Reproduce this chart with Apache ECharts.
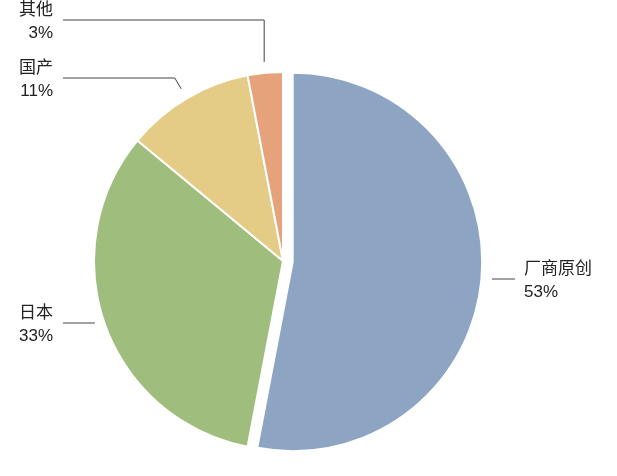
<!DOCTYPE html>
<html>
<head>
<meta charset="utf-8">
<script src="https://cdn.jsdelivr.net/npm/echarts@6/dist/echarts.min.js"></script>
<style>
  html, body { margin: 0; padding: 0; background: #fff; }
  #chart { width: 617px; height: 476px; }
</style>
</head>
<body>
<div id="chart"></div>
<script>
const categories = ['厂商原创', '日本', '国产', '其他']
const shares = [53, 33, 11, 3]
const colors = ['#8EA4C3', '#9FBE7E', '#E4CC86', '#E6A37B']

// where each label sits (side, y of the leader line)
const labelSpots = [
  { side: 'right', lineY: 279 },
  { side: 'left', lineY: 323 },
  { side: 'left', lineY: 78 },
  { side: 'left', lineY: 20 }
]

const CENTER = [283, 261]
const RADIUS = 189
const PULL = 10 // how far the first slice is pulled out
const GAP = 11 // space between slice edge and leader line
const LEFT_TEXT_X = 53
const RIGHT_TEXT_X = 524

// direction of the pulled slice, from the data
const total = shares.reduce((a, b) => a + b, 0)
const midAngle = (shares[0] / total) * Math.PI // clockwise from top
const pullX = Math.sin(midAngle) * PULL
const pullY = -Math.cos(midAngle) * PULL

const chart = echarts.init(document.getElementById('chart'), null, { renderer: 'canvas' })

const base = {
  type: 'pie',
  radius: RADIUS,
  startAngle: 90,
  clockwise: true,
  silent: true,
  avoidLabelOverlap: false,
  emphasis: { disabled: true }
}

const hidden = { color: 'transparent', borderWidth: 0 }

chart.setOption({
  backgroundColor: '#fff',
  animation: false,
  series: [
    {
      ...base,
      center: CENTER,
      label: {
        show: true,
        position: 'outside',
        formatter: (p) => p.name + '\n' + p.value + '%',
        color: '#222',
        fontSize: 17,
        lineHeight: 23,
        fontFamily: '"Liberation Sans", "Noto Sans CJK SC", sans-serif'
      },
      labelLine: {
        show: true,
        length: 10,
        length2: 10,
        lineStyle: { color: '#444', width: 1 }
      },
      labelLayout: function (params) {
        const i = params.dataIndex
        const spot = labelSpots[i]
        const pts = params.labelLinePoints
        if (!pts) return {}
        const dx = pts[1][0] - pts[0][0]
        const dy = pts[1][1] - pts[0][1]
        const len = Math.hypot(dx, dy) || 1
        let ux = dx / len
        let uy = dy / len
        const sx = i === 0 ? pullX : 0
        const sy = i === 0 ? pullY : 0
        const s = [pts[0][0] + ux * GAP + sx, pts[0][1] + uy * GAP + sy]
        // near-vertical leaders go straight up
        if (Math.abs(uy) > 0.95) {
          ux = 0
          uy = Math.sign(uy)
        }
        let t = 0
        if (Math.abs(uy) > 0.2) {
          t = Math.max(0, (spot.lineY - s[1]) / uy)
        }
        if (t === 0) s[1] = spot.lineY
        const m = [s[0] + ux * t, spot.lineY]
        const isLeft = spot.side === 'left'
        const endX = isLeft ? LEFT_TEXT_X + 10 : RIGHT_TEXT_X - 9
        return {
          x: isLeft ? LEFT_TEXT_X : RIGHT_TEXT_X,
          y: spot.lineY + 2,
          align: isLeft ? 'right' : 'left',
          verticalAlign: 'middle',
          labelLinePoints: [s, m, [endX, spot.lineY]]
        }
      },
      itemStyle: { borderColor: '#fff', borderWidth: 2 },
      data: categories.map((name, i) => ({
        name,
        value: shares[i],
        itemStyle: i === 0 ? hidden : { color: colors[i] }
      }))
    },
    {
      ...base,
      center: [CENTER[0] + pullX, CENTER[1] + pullY],
      label: { show: false },
      labelLine: { show: false },
      itemStyle: { borderColor: '#fff', borderWidth: 1.5 },
      data: categories.map((name, i) => ({
        name,
        value: shares[i],
        itemStyle: i === 0 ? { color: colors[0] } : hidden
      }))
    }
  ]
})
</script>
</body>
</html>
